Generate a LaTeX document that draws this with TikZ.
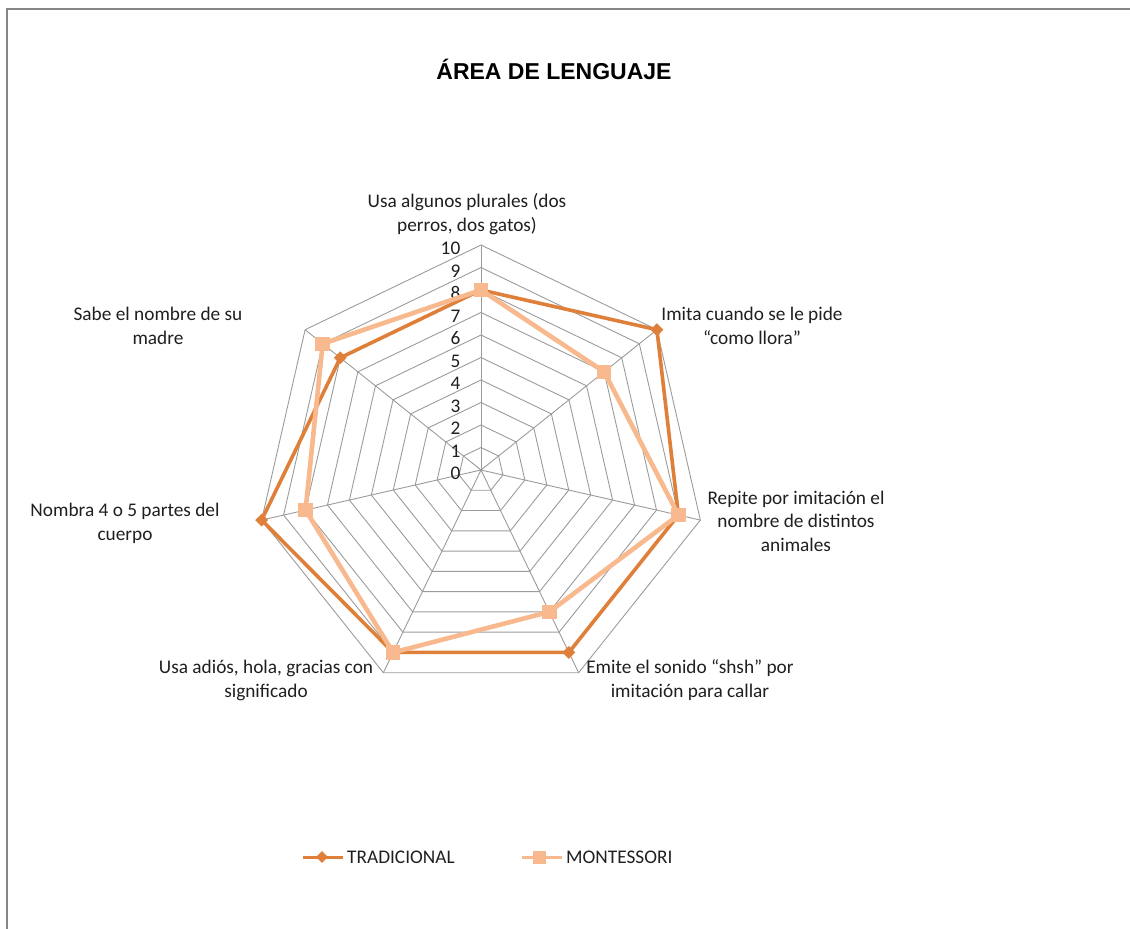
\documentclass[tikz,border=0pt]{standalone}
\usepackage{fontspec}
\setmainfont{Carlito}
\newfontfamily\titlefont{Liberation Sans}
\usetikzlibrary{shapes.geometric}
\definecolor{tradc}{RGB}{222,128,58}
\definecolor{montc}{RGB}{249,185,142}
\definecolor{gridc}{RGB}{155,155,155}
\definecolor{framec}{RGB}{134,134,134}
\begin{document}
\begin{tikzpicture}[x=1pt,y=1pt,
  lbl/.style={font=\fontsize{19.3}{23.5}\selectfont, align=center, text=black!88, inner sep=0pt, anchor=base},
  val/.style={font=\fontsize{19.3}{23.5}\selectfont, text=black!88, inner sep=0pt, anchor=base east},
  gridline/.style={draw=gridc, line width=0.9pt},
  tline/.style={draw=tradc, line width=3.6pt, line join=miter},
  mline/.style={draw=montc, line width=4.6pt, line join=miter},
  tmark/.style={diamond, fill=tradc, inner sep=0pt, minimum size=13pt},
  mmark/.style={rectangle, fill=montc, inner sep=0pt, minimum size=14.5pt},
  legline/.style={line width=3pt}]
\useasboundingbox (0,0) rectangle (1130,-929);
% frame
\draw[framec, line width=2pt] (7,-929) -- (7,-9) -- (1130,-9);
% title
\node[font=\titlefont\bfseries\fontsize{23}{28}\selectfont, inner sep=0pt] (title) at (554,-69) {ÁREA DE LENGUAJE};
% radar
\begin{scope}[shift={(481,-470)}]
  \coordinate (c) at (0,0);
  \foreach \k in {1,...,10}{
    \pgfmathsetmacro{\r}{22.5*\k}
    \draw[gridline] (90:\r) \foreach \i in {1,...,6}{ -- ({90-\i*360/7}:\r)} -- cycle;
  }
  \foreach \i in {0,...,6}{
    \coordinate (a\i) at ({90-\i*360/7}:225);
    \draw[gridline] (c) -- (a\i);
  }
  % data
  \foreach \v [count=\i from 0] in {8,10,9,9,9,10,8}{
    \coordinate (t\i) at ({90-\i*360/7}:{22.5*\v});
  }
  \foreach \v [count=\i from 0] in {8,7,9,7,9,8,9}{
    \coordinate (m\i) at ({90-\i*360/7}:{22.5*\v});
  }
\end{scope}
% value labels
\foreach \k in {0,...,10}{
  \node[val] (v\k) at (460.5,{-479.5+22.5*\k}) {\k};
}
% series
\draw[tline] (t0) -- (t1) -- (t2) -- (t3) -- (t4) -- (t5) -- (t6) -- cycle;
\foreach \i in {0,...,6}{ \node[tmark] (tm\i) at (t\i) {}; }
\draw[mline] (m0) -- (m1) -- (m2) -- (m3) -- (m4) -- (m5) -- (m6) -- cycle;
\foreach \i in {0,...,6}{ \node[mmark] (mm\i) at (m\i) {}; }
% category labels (anchor = baseline of last line)
\node[lbl] (l0) at (467,-231) {Usa algunos plurales (dos\\perros, dos gatos)};
\node[lbl] (l1) at (752,-344) {Imita cuando se le pide\\“como llora”};
\node[lbl] (l2) at (796,-551) {Repite por imitación el\\nombre de distintos\\animales};
\node[lbl] (l3) at (690,-697) {Emite el sonido “shsh” por\\imitación para callar};
\node[lbl] (l4) at (266,-697) {Usa adiós, hola, gracias con\\significado};
\node[lbl] (l5) at (125,-540) {Nombra 4 o 5 partes del\\cuerpo};
\node[lbl] (l6) at (158,-344) {Sabe el nombre de su\\madre};
% legend
\coordinate (lt1) at (303,-857);
\coordinate (lt2) at (343,-857);
\draw[legline, tradc] (lt1) -- (lt2);
\node[tmark, minimum size=12pt] (ltm) at (322,-857) {};
\node[lbl, anchor=base west] (ltt) at (347,-863) {TRADICIONAL};
\coordinate (lm1) at (522,-857);
\coordinate (lm2) at (562,-857);
\draw[legline, montc] (lm1) -- (lm2);
\node[mmark, minimum size=13pt] (lmm) at (539,-857) {};
\node[lbl, anchor=base west] (lmt) at (566,-863) {MONTESSORI};
\end{tikzpicture}
\end{document}
